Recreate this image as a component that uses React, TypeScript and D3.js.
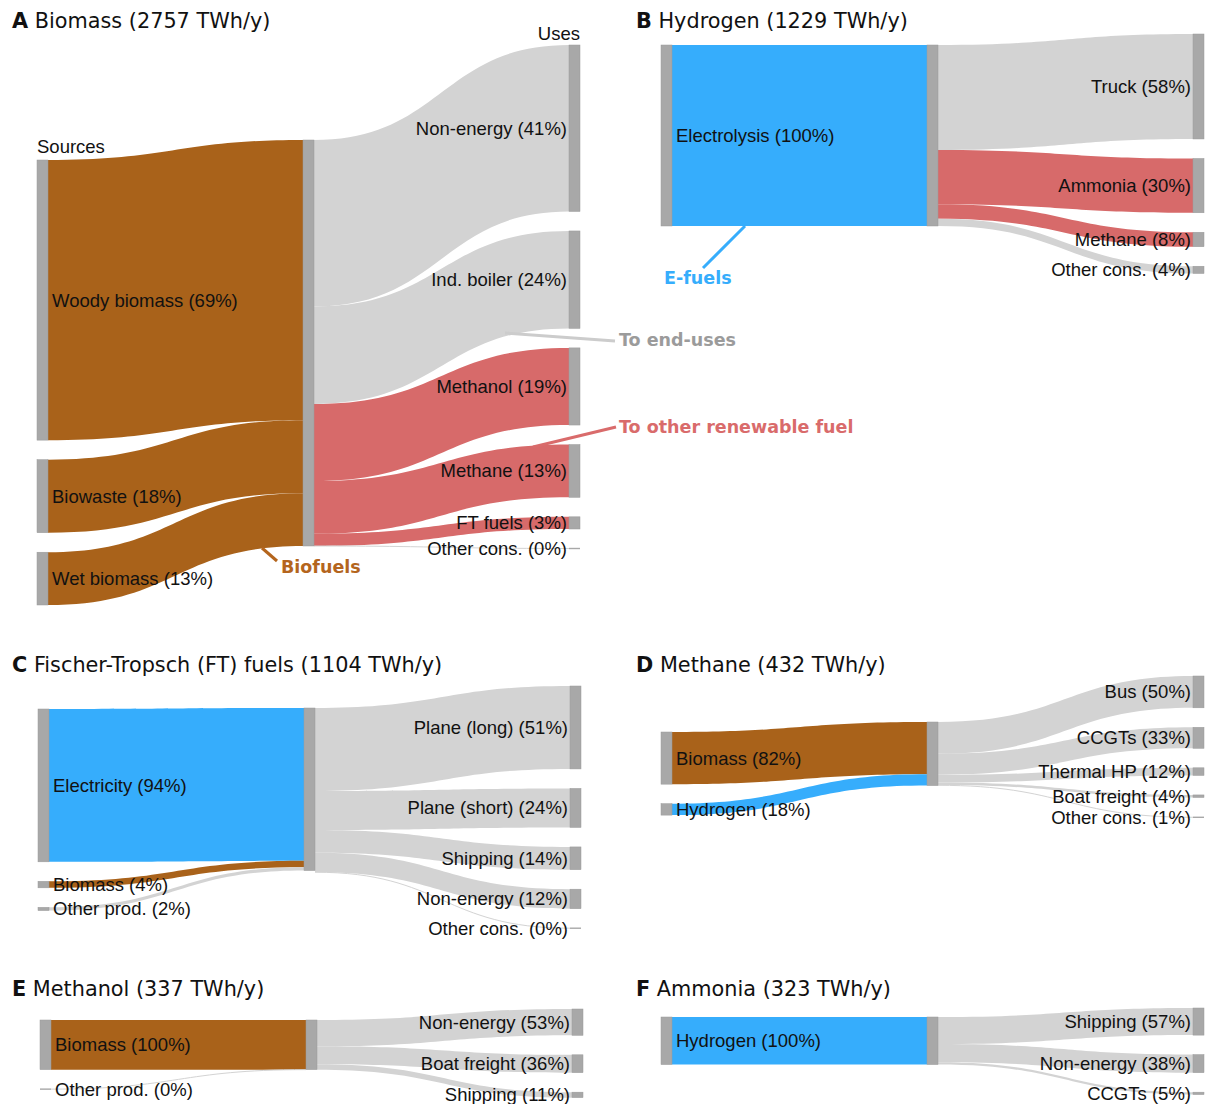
import React from "react";
import * as d3 from "d3";

// ---------- DATA ----------
const panelLetters = ["A", "B", "C", "D", "E", "F"];
const panelTitles = [
  "Biomass",
  "Hydrogen",
  "Fischer-Tropsch (FT) fuels",
  "Methane",
  "Methanol",
  "Ammonia",
];
const panelTotals = [2757, 1229, 1104, 432, 337, 323]; // TWh/y

// A – Biomass
const aSources = ["Woody biomass", "Biowaste", "Wet biomass"];
const aSourceShares = [69, 18, 13];
const aSourceKinds = ["bio", "bio", "bio"];
const aUses = ["Non-energy", "Ind. boiler", "Methanol", "Methane", "FT fuels", "Other cons."];
const aUseShares = [41, 24, 19, 13, 3, 0];
const aUseKinds = ["end", "end", "fuel", "fuel", "fuel", "end"];

// B – Hydrogen
const bSources = ["Electrolysis"];
const bSourceShares = [100];
const bSourceKinds = ["elec"];
const bUses = ["Truck", "Ammonia", "Methane", "Other cons."];
const bUseShares = [58, 30, 8, 4];
const bUseKinds = ["end", "fuel", "fuel", "end"];

// C – FT fuels
const cSources = ["Electricity", "Biomass", "Other prod."];
const cSourceShares = [94, 4, 2];
const cSourceKinds = ["elec", "bio", "other"];
const cUses = ["Plane (long)", "Plane (short)", "Shipping", "Non-energy", "Other cons."];
const cUseShares = [51, 24, 14, 12, 0];
const cUseKinds = ["end", "end", "end", "end", "end"];

// D – Methane
const dSources = ["Biomass", "Hydrogen"];
const dSourceShares = [82, 18];
const dSourceKinds = ["bio", "elec"];
const dUses = ["Bus", "CCGTs", "Thermal HP", "Boat freight", "Other cons."];
const dUseShares = [50, 33, 12, 4, 1];
const dUseKinds = ["end", "end", "end", "end", "end"];

// E – Methanol
const eSources = ["Biomass", "Other prod."];
const eSourceShares = [100, 0];
const eSourceKinds = ["bio", "other"];
const eUses = ["Non-energy", "Boat freight", "Shipping"];
const eUseShares = [53, 36, 11];
const eUseKinds = ["end", "end", "end"];

// F – Ammonia
const fSources = ["Hydrogen"];
const fSourceShares = [100];
const fSourceKinds = ["elec"];
const fUses = ["Shipping", "Non-energy", "CCGTs"];
const fUseShares = [57, 38, 5];
const fUseKinds = ["end", "end", "end"];

const panelSources = [aSources, bSources, cSources, dSources, eSources, fSources];
const panelSourceShares = [aSourceShares, bSourceShares, cSourceShares, dSourceShares, eSourceShares, fSourceShares];
const panelSourceKinds = [aSourceKinds, bSourceKinds, cSourceKinds, dSourceKinds, eSourceKinds, fSourceKinds];
const panelUses = [aUses, bUses, cUses, dUses, eUses, fUses];
const panelUseShares = [aUseShares, bUseShares, cUseShares, dUseShares, eUseShares, fUseShares];
const panelUseKinds = [aUseKinds, bUseKinds, cUseKinds, dUseKinds, eUseKinds, fUseKinds];

// ---------- LAYOUT / STYLE ----------
const kindColor: Record<string, string> = {
  bio: "#a9621a",
  elec: "#36adfc",
  end: "#d3d3d3",
  fuel: "#d76a6a",
  other: "#d3d3d3",
};
const NODE_FILL = "#a8a8a8";
const NODE_W = 11;
const PAD = 19.5;
const COL_SPAN = 532;
const LABEL_FONT = "'Liberation Sans', Arial, Helvetica, sans-serif";
const TITLE_FONT = "'DejaVu Sans', Verdana, sans-serif";

// one common value scale (TWh -> px) for all panels
const flowScale = d3.scaleLinear().domain([0, 2757]).range([0, 406]);

const panelX0 = [37, 661, 38, 661, 40, 661];
const panelColTops = [
  [160, 140, 45],
  [45, 45, 34],
  [709, 708, 686],
  [732, 722, 676],
  [1020, 1020, 1009],
  [1017, 1017, 1008],
];
const titlePos = [
  [12, 28],
  [636, 28],
  [12, 672],
  [636, 672],
  [12, 996],
  [636, 996],
];

function ribbon(x0: number, a0: number, b0: number, x1: number, a1: number, b1: number) {
  const xm = (x0 + x1) / 2;
  const p = d3.path();
  p.moveTo(x0, a0);
  p.bezierCurveTo(xm, a0, xm, a1, x1, a1);
  p.lineTo(x1, b1);
  p.bezierCurveTo(xm, b1, xm, b0, x0, b0);
  p.closePath();
  return p.toString();
}
function centerLine(x0: number, y0: number, x1: number, y1: number) {
  const xm = (x0 + x1) / 2;
  const p = d3.path();
  p.moveTo(x0, y0);
  p.bezierCurveTo(xm, y0, xm, y1, x1, y1);
  return p.toString();
}

type N = { y0: number; y1: number; h: number };

function Panel({ i }: { i: number }) {
  const total = panelTotals[i];
  const x = d3.scaleLinear().domain([0, 2]).range([panelX0[i], panelX0[i] + COL_SPAN]);
  const tops = panelColTops[i];
  const stack = (shares: number[], top: number): N[] => {
    let c = top;
    return shares.map((s) => {
      const h = flowScale((total * s) / 100);
      const n = { y0: c, y1: c + h, h };
      c += h + PAD;
      return n;
    });
  };
  const left = stack(panelSourceShares[i], tops[0]);
  const right = stack(panelUseShares[i], tops[2]);
  const H = flowScale(total);
  const mid = { y0: tops[1], y1: tops[1] + H, h: H };

  const links: any[] = [];
  let mc = mid.y0;
  left.forEach((n, k) => {
    links.push({
      x0: x(0) + NODE_W, a0: n.y0, b0: n.y1,
      x1: x(1), a1: mc, b1: mc + n.h,
      color: kindColor[panelSourceKinds[i][k]],
    });
    mc += n.h;
  });
  let mc2 = mid.y0;
  right.forEach((n, k) => {
    links.push({
      x0: x(1) + NODE_W, a0: mc2, b0: mc2 + n.h,
      x1: x(2), a1: n.y0, b1: n.y1,
      color: kindColor[panelUseKinds[i][k]],
    });
    mc2 += n.h;
  });

  const nodeRect = (xx: number, n: N, key: string) => {
    const h = Math.max(n.h, 1.4);
    const y = n.h < 1.4 ? n.y0 - (1.4 - n.h) / 2 : n.y0;
    return <rect key={key} x={xx} y={y} width={NODE_W} height={h} fill={NODE_FILL} stroke="#9a9a9a" strokeWidth={n.h < 1.4 ? 0 : 0.5} />;
  };

  return (
    <g>
      {links.map((l, k) =>
        l.b0 - l.a0 < 1 ? (
          <path key={"l" + k} d={centerLine(l.x0, (l.a0 + l.b0) / 2, l.x1, (l.a1 + l.b1) / 2)} fill="none" stroke={l.color} strokeWidth={1} />
        ) : (
          <path key={"l" + k} d={ribbon(l.x0, l.a0, l.b0, l.x1, l.a1, l.b1)} fill={l.color} />
        )
      )}
      {left.map((n, k) => nodeRect(x(0), n, "ln" + k))}
      {nodeRect(x(1), mid, "mid")}
      {right.map((n, k) => nodeRect(x(2), n, "rn" + k))}
      <g fontFamily={LABEL_FONT} fontSize={18.5} fill="#111">
        {left.map((n, k) => (
          <text key={"lt" + k} x={x(0) + NODE_W + 4} y={(n.y0 + n.y1) / 2} dy="0.35em">
            {panelSources[i][k]} ({panelSourceShares[i][k]}%)
          </text>
        ))}
        {right.map((n, k) => (
          <text key={"rt" + k} x={x(2) - 2} y={(n.y0 + n.y1) / 2} dy="0.35em" textAnchor="end">
            {panelUses[i][k]} ({panelUseShares[i][k]}%)
          </text>
        ))}
      </g>
      <text x={titlePos[i][0]} y={titlePos[i][1]} fontFamily={TITLE_FONT} fontSize={20.8} fill="#111">
        <tspan fontWeight="bold">{panelLetters[i]}</tspan>
        <tspan> {panelTitles[i]} ({panelTotals[i]} TWh/y)</tspan>
      </text>
    </g>
  );
}

export default function App() {
  return (
    <svg width={1211} height={1104} style={{ position: "absolute", left: 0, top: 0, background: "#fff" }}>
      {panelLetters.map((_, i) => (
        <Panel key={i} i={i} />
      ))}
      {/* column headers */}
      <g fontFamily={LABEL_FONT} fontSize={18.5} fill="#111">
        <text x={37} y={153}>Sources</text>
        <text x={580} y={40} textAnchor="end">Uses</text>
      </g>
      {/* annotations */}
      <g fontFamily={TITLE_FONT} fontSize={17.5} fontWeight="bold">
        <line x1={505} y1={333} x2={615} y2={341} stroke="#cccccc" strokeWidth={3} />
        <text x={619} y={346} fill="#9b9b9b">To end-uses</text>
        <line x1={533} y1={447} x2={616} y2={427} stroke="#d96b6b" strokeWidth={3} />
        <text x={619} y={433} fill="#d96b6b">To other renewable fuel</text>
        <line x1={262} y1={548} x2={277} y2={561} stroke="#b4651d" strokeWidth={3} />
        <text x={281} y={573} fill="#b4651d">Biofuels</text>
        <line x1={745} y1={226} x2={703} y2={268} stroke="#36adfc" strokeWidth={3} />
        <text x={664} y={284} fill="#36adfc">E-fuels</text>
      </g>
    </svg>
  );
}
